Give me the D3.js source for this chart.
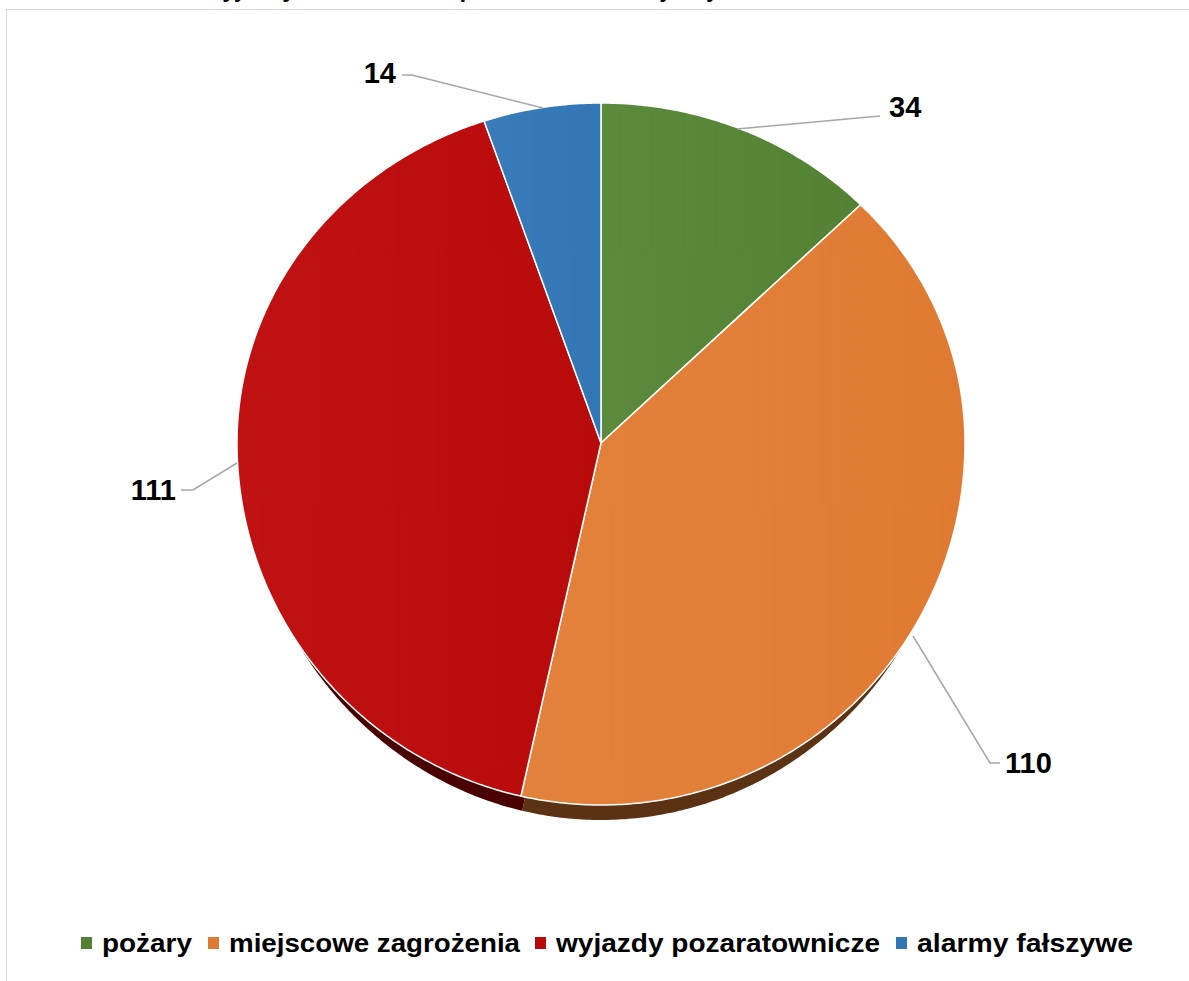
<!DOCTYPE html>
<html>
<head>
<meta charset="utf-8">
<script src="https://cdn.jsdelivr.net/npm/d3@7/dist/d3.min.js"></script>
<style>
  html, body { margin: 0; padding: 0; background: #fff; }
  svg { display: block; }
  text { font-family: "Liberation Sans", Arial, sans-serif; font-weight: bold; fill: #000; }
</style>
</head>
<body>
<svg id="chart" width="1189" height="981"></svg>
<script>
// ---- data ----
const categories = ["pożary", "miejscowe zagrożenia", "wyjazdy pozaratownicze", "alarmy fałszywe"];
const values = [34, 110, 111, 14];
const labelTexts = ["34", "110", "111", "14"];
const titleText = "Wyjazdy do zdarzeń w podziale na rodzaje – jednostki OSP w 2019 roku";

// ---- styles / layout ----
const colors = ["#548235", "#e07a33", "#b80a0a", "#3276b5"];
const lightColors = ["#5c8a3c", "#e3823c", "#c01212", "#3a7cba"];
const darkColors = ["#2f4a1e", "#5c3214", "#4a0000", "#1c4470"];
const W = 1189, H = 981;
const cx = 601, cy = 443, rx = 364, ryTop = 340, ryBot = 362;

const svg = d3.select("#chart");
const defs = svg.append("defs");

// border
svg.append("rect").attr("x", 6.5).attr("y", 9.5).attr("width", W + 20).attr("height", H + 20)
  .attr("fill", "none").attr("stroke", "#d9d9d9").attr("stroke-width", 1);

// cut-off title (only descenders visible, as in the reference)
svg.append("text").attr("x", 607).attr("y", -3).attr("text-anchor", "middle")
  .attr("font-size", 24).text(titleText);

// gradients
colors.forEach((c, i) => {
  const g = defs.append("linearGradient").attr("id", "g" + i)
    .attr("x1", 0).attr("y1", 0).attr("x2", 1).attr("y2", 0);
  g.append("stop").attr("offset", 0).attr("stop-color", lightColors[i]);
  g.append("stop").attr("offset", 1).attr("stop-color", c);
});

const pie = d3.pie().sort(null).value(d => d);
const arcs = pie(values);

function proj(a, rX, rT, rB) {
  const s = Math.sin(a), c = Math.cos(a);
  return [cx + rX * s, cy - (c > 0 ? rT : rB) * c];
}
function slicePath(d, rX, rT, rB) {
  const n = Math.max(8, Math.ceil((d.endAngle - d.startAngle) / 0.01));
  const pts = [[cx, cy]];
  for (let k = 0; k <= n; k++) {
    const a = d.startAngle + (d.endAngle - d.startAngle) * k / n;
    pts.push(proj(a, rX, rT, rB));
  }
  return d3.line()(pts) + "Z";
}

// shadow
svg.append("g").selectAll("path").data(arcs).join("path")
  .attr("d", d => slicePath(d, rx - 6, ryTop, ryBot + 15))
  .attr("fill", (d, i) => darkColors[i]);

// slices
svg.append("g").selectAll("path").data(arcs).join("path")
  .attr("d", d => slicePath(d, rx, ryTop, ryBot))
  .attr("fill", (d, i) => "url(#g" + i + ")")
  .attr("stroke", "#ffffff").attr("stroke-width", 1.5).attr("stroke-linejoin", "round");

// leader lines and labels
const labelLayout = [
  { pts: [[737, 129], [880, 116]], x: 889, y: 117, anchor: "start" },
  { pts: [[913, 636], [990, 763], [1000, 763]], x: 1005, y: 773, anchor: "start" },
  { pts: [[237, 463], [193, 490], [181, 490]], x: 176, y: 500, anchor: "end" },
  { pts: [[543, 108], [412, 75], [402, 75]], x: 396, y: 83, anchor: "end" }
];
svg.append("g").selectAll("path").data(labelLayout).join("path")
  .attr("d", d => d3.line()(d.pts))
  .attr("fill", "none").attr("stroke", "#a6a6a6").attr("stroke-width", 1.5);
svg.append("g").selectAll("text").data(labelLayout).join("text")
  .attr("x", d => d.x).attr("y", d => d.y).attr("text-anchor", d => d.anchor)
  .attr("font-size", 29).text((d, i) => labelTexts[i]);

// legend
const legendX = [81, 208, 535, 896];
const legendW = [90, 291, 324, 216];
const lg = svg.append("g");
categories.forEach((c, i) => {
  lg.append("rect").attr("x", legendX[i]).attr("y", 937).attr("width", 11).attr("height", 12)
    .attr("fill", colors[i]);
  lg.append("text").attr("x", legendX[i] + 21).attr("y", 952).attr("font-size", 26)
    .attr("textLength", legendW[i]).attr("lengthAdjust", "spacingAndGlyphs").text(c);
});
</script>
</body>
</html>
